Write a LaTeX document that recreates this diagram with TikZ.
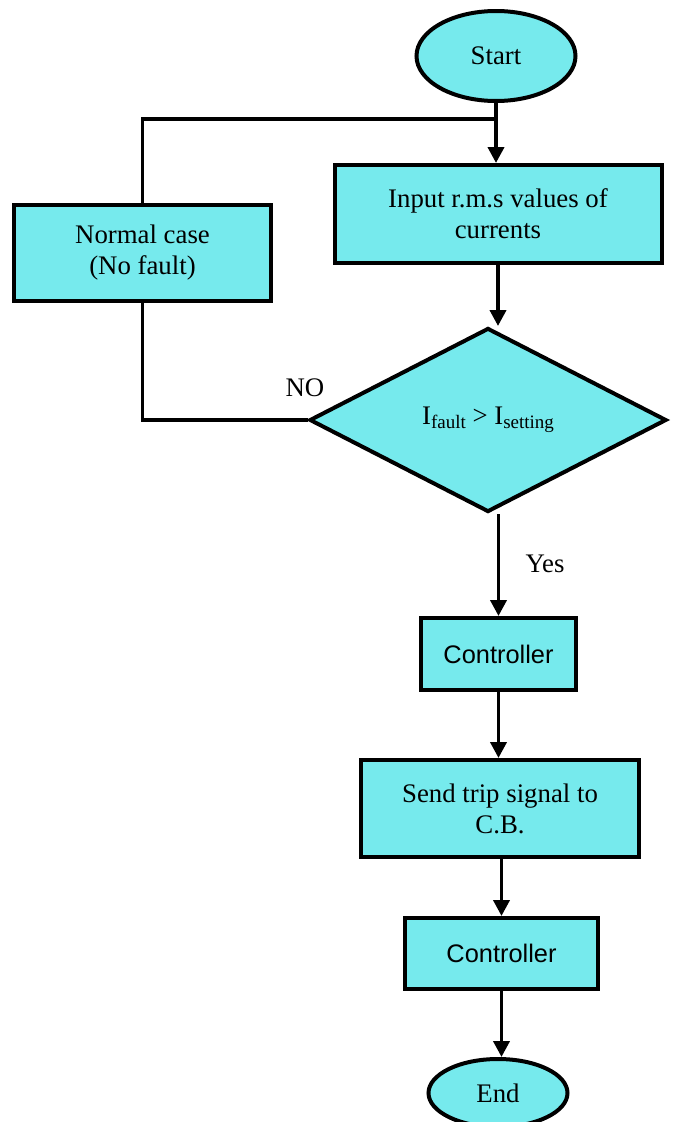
\documentclass[tikz,border=0pt]{standalone}
\usepackage{fontspec}
\setmainfont{Liberation Serif}
\newfontfamily\sansfnt{Liberation Sans}
\usetikzlibrary{shapes.geometric,arrows.meta}
\definecolor{boxfill}{RGB}{118,234,237}
\begin{document}
\begin{tikzpicture}[x=1pt,y=-1pt,
  base/.style={draw=black,fill=boxfill,line width=4pt,inner sep=0pt,
    font=\fontsize{26.8}{31}\selectfont,align=center},
  term/.style={base,ellipse},
  procbox/.style={base,rectangle},
  decis/.style={base,diamond},
  conn/.style={line width=3.8pt,draw=black},
  arr/.style={conn,-{Triangle[length=16pt,width=16pt]}},
  lbl/.style={font=\fontsize{26.8}{31}\selectfont,inner sep=0pt}]
\useasboundingbox (0,0) rectangle (673,1122);
\node[term,minimum width=159pt,minimum height=90pt] (start) at (496,56) {Start};
\node[procbox,minimum width=327pt,minimum height=98pt] (input) at (498,214) {Input r.m.s values of\\currents};
\node[procbox,minimum width=257pt,minimum height=96pt] (normal) at (142.5,253) {Normal case\\(No fault)};
\node[decis,minimum width=357pt,minimum height=184pt] (diam) at (488,420)
  {I\raisebox{-4.5pt}{\fontsize{19}{19}\selectfont fault} {>} I\raisebox{-4.5pt}{\fontsize{19}{19}\selectfont setting}};
\node[procbox,minimum width=155pt,minimum height=72pt,font=\sansfnt\fontsize{25.4}{30}\selectfont] (ctrlA) at (498.5,654) {Controller};
\node[procbox,minimum width=278pt,minimum height=97pt] (send) at (500,808.5) {Send trip signal to\\C.B.};
\node[procbox,minimum width=193pt,minimum height=71pt,font=\sansfnt\fontsize{25.4}{30}\selectfont] (ctrlB) at (501.5,953.5) {Controller};
\node[term,minimum width=139pt,minimum height=68pt] (finish) at (498,1093) {End};
\coordinate (j) at (start.south |- 0,119);
\draw[arr] (start.south) -- (start.south |- input.north);
\draw[conn] (normal.north) |- (j);
\draw[conn] (normal.south) |- (diam.west);
\node[lbl] (no) at (305,388) {NO};
\draw[arr] (input.south) -- (input.south |- diam.north);
\coordinate (dtop) at (ctrlA.north |- diam.south);
\draw[arr] (dtop) -- (ctrlA.north);
\node[lbl] (yes) at (545,564) {Yes};
\draw[arr] (ctrlA.south) -- (ctrlA.south |- send.north);
\draw[arr] (send.south -| ctrlB.north) -- (ctrlB.north);
\draw[arr] (ctrlB.south) -- (ctrlB.south |- finish.north);
\end{tikzpicture}
\end{document}
